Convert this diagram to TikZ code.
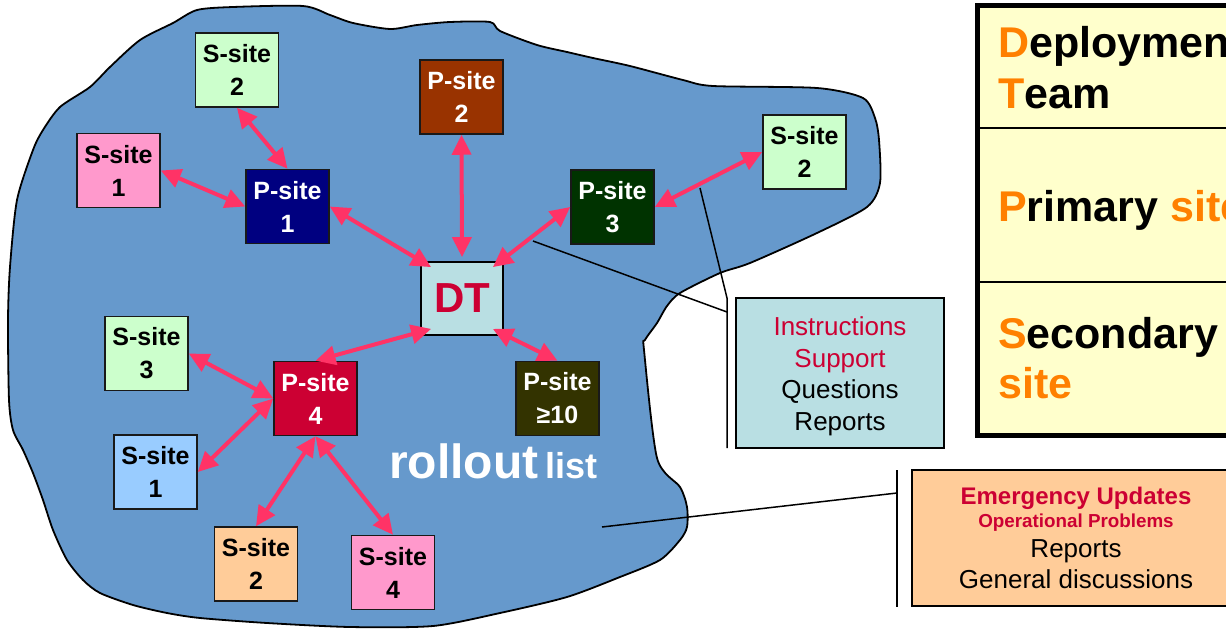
\documentclass[tikz,border=0pt]{standalone}
\usepackage{fontspec}
\setmainfont{Liberation Sans}
\usetikzlibrary{arrows.meta}

\definecolor{sea}{HTML}{6699CC}
\definecolor{link}{HTML}{FF3366}
\definecolor{crimson}{HTML}{CC0033}
\definecolor{mint}{HTML}{CCFFCC}
\definecolor{rose}{HTML}{FF99CC}
\definecolor{sky}{HTML}{99CCFF}
\definecolor{peach}{HTML}{FFCC99}
\definecolor{pale}{RGB}{185,223,227}
\definecolor{navy}{HTML}{000080}
\definecolor{rust}{HTML}{993300}
\definecolor{forest}{HTML}{003300}
\definecolor{olive}{HTML}{333300}
\definecolor{cream}{HTML}{FFFFCC}
\definecolor{amber}{HTML}{FF8000}

\tikzset{
  sitebox/.style={draw=black!90, line width=1.5pt, minimum width=83pt, minimum height=74pt,
    inner sep=0pt, align=center, font=\fontsize{25}{33}\selectfont\bfseries},
  ssite/.style={sitebox, text=black},
  psite/.style={sitebox, text=white},
  dtbox/.style={draw=black, line width=1.8pt, fill=pale, minimum width=82pt, minimum height=73pt,
    inner sep=0pt, text=crimson, font=\fontsize{42}{50}\selectfont\bfseries},
  link2/.style={draw=link, line width=4pt, {Triangle[length=20pt,width=19pt]}-{Triangle[length=20pt,width=19pt]}},
  callout/.style={draw=black, line width=1.5pt},
  legendtext/.style={anchor=base west, inner sep=0pt, font=\fontsize{43}{50}\selectfont\bfseries},
  infotext/.style={anchor=base, inner sep=0pt},
}

\begin{document}
\begin{tikzpicture}[x=1pt,y=-1pt]
\useasboundingbox (0,0) rectangle (1226,629);
\begin{scope}
\clip (0,0) rectangle (1226,629);

% the rollout area
\draw[fill=sea, line width=1.8pt, line join=round]
  plot[smooth cycle, tension=0.45] coordinates {
  (197,10) (233,7) (303,6) (330,15) (353,23) (390,29) (417,25) (450,22) (490,22)
  (500,31) (537,45) (567,52) (593,58) (630,66) (683,80) (713,86) (817,88) (863,98)
  (875,118) (879,140) (880,183) (867,207) (817,233) (750,263) (720,273) (680,293)
  (667,306) (657,323) (645,340) (644,350) (657,458) (680,487) (687,507) (687,527)
  (680,540) (660,560) (620,577) (567,597) (500,613) (433,626) (350,627) (267,623)
  (200,618) (167,613) (133,605) (100,593) (83,580) (67,560) (53,530) (43,500)
  (33,473) (23,450) (13,430) (9,400) (8,320) (10,267) (17,200) (33,150) (43,130)
  (60,107) (90,87) (110,67) (140,40) (173,23)};

% sites
\node[ssite, fill=mint]  (s2a) at (237,70)    {S-site\\2};
\node[ssite, fill=rose]  (s1a) at (118.5,170.5) {S-site\\1};
\node[psite, fill=navy]  (p1)  at (287.5,206.5) {P-site\\1};
\node[psite, fill=rust]  (p2)  at (461.5,97)  {P-site\\2};
\node[psite, fill=forest](p3)  at (612.5,207) {P-site\\3};
\node[ssite, fill=mint]  (s2b) at (804.5,152) {S-site\\2};
\node[dtbox]             (dt)  at (462,298.5) {DT};
\node[ssite, fill=mint]  (s3)  at (146.5,353.5) {S-site\\3};
\node[psite, fill=crimson](p4) at (315.5,398.5) {P-site\\4};
\node[ssite, fill=sky]   (s1b) at (155.5,472) {S-site\\1};
\node[psite, fill=olive] (p10) at (557.5,398.5) {P-site\\≥10};
\node[ssite, fill=peach] (s2c) at (256,564)   {S-site\\2};
\node[ssite, fill=rose]  (s4)  at (393,572.5) {S-site\\4};

% label of the area
\node[anchor=base west, inner sep=0pt, text=white, font=\bfseries] (roll) at (389,478)
  {{\fontsize{48}{50}\selectfont rollout}\hspace{7pt}{\fontsize{36}{40}\selectfont list}};

% links
\draw[link2] (s2a.south) -- (p1.north);
\draw[link2] (s1a.east) -- (p1.west);
\draw[link2] (p1.east) -- ([xshift=11pt,yshift=-6pt]dt.north west);
\draw[link2] (p2.south) -- ([yshift=4pt]dt.north);
\draw[link2] (p3.west) -- ([xshift=-11pt,yshift=-6pt]dt.north east);
\draw[link2] (p3.east) -- (s2b.west);
\draw[link2] ([xshift=11pt,yshift=7pt]dt.south west) -- (p4.north);
\draw[link2] ([xshift=-11pt,yshift=7pt]dt.south east) -- (p10.north);
\draw[link2] (s3.east) -- (p4.west);
\draw[link2] (p4.west) -- (s1b.east);
\draw[link2] (p4.south) -- (s2c.north);
\draw[link2] (p4.south) -- (s4.north);

% callout for the DT traffic
\coordinate (ca) at (533,241);
\coordinate (cb) at (727,312);
\coordinate (bt) at (700,188);
\coordinate (bm) at (727,298);
\coordinate (bb) at (727,448);
\draw[callout] (ca) -- (cb);
\draw[callout] (bt) -- (bm) -- (bb);
\node[draw=black, line width=1.5pt, fill=pale, minimum width=208pt, minimum height=150pt,
  inner sep=0pt] (info) at (840,373) {};
\node[infotext, text=crimson, font=\fontsize{26}{32}\selectfont] (i1) at (840,335) {Instructions};
\node[infotext, text=crimson, font=\fontsize{26}{32}\selectfont] (i2) at (840,367) {Support};
\node[infotext, font=\fontsize{26}{32}\selectfont] (i3) at (840,398) {Questions};
\node[infotext, font=\fontsize{26}{32}\selectfont] (i4) at (840,430) {Reports};

% callout for the list traffic
\coordinate (ea) at (602,527);
\coordinate (eb) at (897,493);
\coordinate (et) at (897,470);
\coordinate (ebot) at (897,607);
\draw[callout] (ea) -- (eb);
\draw[callout] (et) -- (ebot);
\node[draw=black, line width=1.5pt, fill=peach, minimum width=328pt, minimum height=136pt,
  inner sep=0pt] (emer) at (1076,538) {};
\node[infotext, text=crimson, font=\fontsize{24}{26}\selectfont\bfseries] (e1) at (1076,504) {Emergency Updates};
\node[infotext, text=crimson, font=\fontsize{18.8}{22}\selectfont\bfseries] (e2) at (1076,527) {Operational Problems};
\node[infotext, font=\fontsize{26}{30}\selectfont] (e3) at (1076,557) {Reports};
\node[infotext, font=\fontsize{26}{30}\selectfont] (e4) at (1076,588) {General discussions};

% legend table
\draw[fill=cream, line width=5pt] (977,5.5) rectangle (1250,435);
\draw[line width=2.5pt] (977,128) -- (1250,128);
\draw[line width=2.5pt] (977,282) -- (1250,282);
\node[legendtext] (l1) at (998,57)  {\textcolor{amber}{D}eployment};
\node[legendtext] (l2) at (998,108) {\textcolor{amber}{T}eam};
\node[legendtext] (l3) at (998,221) {\textcolor{amber}{P}rimary \textcolor{amber}{site}};
\node[legendtext] (l4) at (998,348) {\textcolor{amber}{S}econdary};
\node[legendtext] (l5) at (998,398) {\textcolor{amber}{site}};
\end{scope}
\end{tikzpicture}
\end{document}
